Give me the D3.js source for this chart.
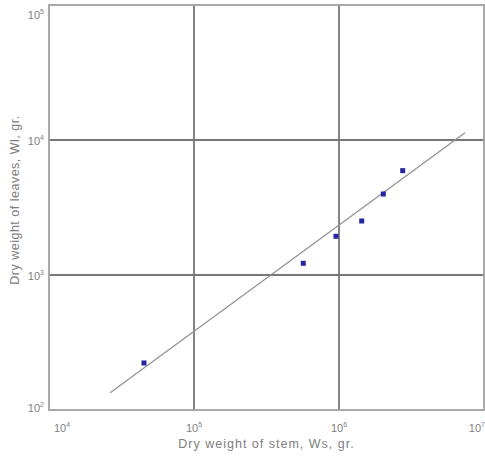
<!DOCTYPE html>
<html><head><meta charset="utf-8">
<script src="https://cdn.jsdelivr.net/npm/d3@7"></script>
<style>body{margin:0;background:#fff}text{font-family:"Liberation Sans",Arial,sans-serif;fill:#808080}</style>
</head><body><svg id="c" width="485" height="457"></svg>
<script>
const stemWeight = [45200, 567000, 953000, 1434000, 2022000, 2750000];
const leafWeight = [223, 1221, 1935, 2512, 3981, 5929];
const fitStem = [26400, 7400000];
const fitLeaf = [134, 11300];
const xTicks = [1e4, 1e5, 1e6, 1e7];
const yTicks = [1e2, 1e3, 1e4, 1e5];
const xExp = ["4","5","6","7"];
const yExp = ["2","3","4","5"];
const xTitle = "Dry weight of stem, Ws, gr.";
const yTitle = "Dry weight of leaves, Wl, gr.";

const svg = d3.select("#c");
const m = {l:49, r:484, t:5, b:410};
const x = d3.scaleLog().domain([1e4,1e7]).range([m.l, m.r]);
const y = d3.scaleLog().domain([1e2,1e5]).range([m.b, m.t]);

// grid
const g = svg.append("g");
g.selectAll(".vx").data(xTicks.slice(1,-1)).join("line")
  .attr("x1", d=>x(d)).attr("x2", d=>x(d)).attr("y1", m.t).attr("y2", m.b)
  .attr("stroke","#777").attr("stroke-width",1.8);
g.selectAll(".hy").data(yTicks.slice(1,-1)).join("line")
  .attr("y1", d=>y(d)).attr("y2", d=>y(d)).attr("x1", m.l).attr("x2", m.r)
  .attr("stroke","#777").attr("stroke-width",1.8);
// frame
svg.append("rect").attr("x", m.l).attr("y", m.t).attr("width", m.r-m.l).attr("height", m.b-m.t)
  .attr("fill","none").attr("stroke","#a0a0a0").attr("stroke-width",1.8);

// fit line
svg.append("line").attr("x1", x(fitStem[0])).attr("y1", y(fitLeaf[0]))
  .attr("x2", x(fitStem[1])).attr("y2", y(fitLeaf[1]))
  .attr("stroke","#909090").attr("stroke-width",1.2);

// points
svg.selectAll(".p").data(stemWeight).join("rect")
  .attr("x", (d,i)=>x(d)-2.5).attr("y", (d,i)=>y(leafWeight[i])-2.5)
  .attr("width",5).attr("height",5).attr("fill","#2626a0");

// x tick labels
const xl = svg.selectAll(".xl").data(xTicks).join("text")
  .attr("x", (d,i)=> i===0 ? x(d)+5 : (i===xTicks.length-1 ? x(d)+1 : x(d)))
  .attr("y", 432)
  .attr("text-anchor", (d,i)=> i===0 ? "start" : (i===xTicks.length-1 ? "end" : "middle"))
  .attr("font-size", 11);
xl.append("tspan").text("10");
xl.append("tspan").text((d,i)=>xExp[i]).attr("font-size",7).attr("dy",-5);

// y tick labels
const yl = svg.selectAll(".yl").data(yTicks).join("text")
  .attr("x", 44)
  .attr("y", (d,i)=> i===yTicks.length-1 ? y(d)+14 : (i===0 ? y(d)+2 : y(d)+5))
  .attr("text-anchor","end").attr("font-size", 11);
yl.append("tspan").text("10");
yl.append("tspan").text((d,i)=>yExp[i]).attr("font-size",7).attr("dy",-5);

// titles
svg.append("text").attr("x", (m.l+m.r)/2).attr("y", 448).attr("text-anchor","middle")
  .attr("font-size", 12.5).attr("letter-spacing", 1.0).text(xTitle);
svg.append("text").attr("transform","translate(19,200) rotate(-90)").attr("text-anchor","middle")
  .attr("font-size", 12.5).attr("letter-spacing", 0.5).text(yTitle);
</script></body></html>
